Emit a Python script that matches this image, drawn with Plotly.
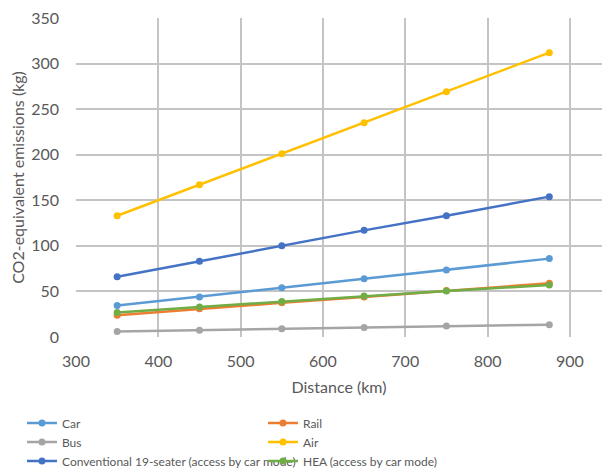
import plotly.graph_objects as go

distance = [350, 450, 550, 650, 750, 875]
car = [34.5, 44, 54, 64, 73.5, 86]
rail = [24, 31, 37.5, 44, 51, 59]
bus = [6, 7.5, 9, 10.5, 12, 13.5]
air = [133, 167, 201, 235, 269, 312]
conv19 = [66, 83, 100, 117, 133, 154]
hea = [27, 33, 39, 45, 50.5, 57]

series = [
    ("Car", car, "#5B9BD5"),
    ("Rail", rail, "#ED7D31"),
    ("Bus", bus, "#A5A5A5"),
    ("Air", air, "#FFC000"),
    ("Conventional 19-seater (access by car mode)", conv19, "#4472C4"),
    ("HEA (access by car mode)", hea, "#70AD47"),
]

fig = go.Figure()
for name, vals, col in series:
    fig.add_trace(go.Scatter(x=distance, y=vals, name=name, mode="lines+markers",
                             line=dict(color=col, width=2.5),
                             marker=dict(color=col, size=7)))

font_fam = "Lato, 'Liberation Sans', sans-serif"
fig.update_layout(
    width=602, height=490,
    margin=dict(l=76, r=0, t=18, b=153),
    plot_bgcolor="white", paper_bgcolor="white",
    font=dict(family=font_fam, color="#595959", size=14),
    xaxis=dict(range=[300, 939], dtick=100, showgrid=True, gridcolor="#c4c4c4", gridwidth=1.5,
               zeroline=False, showline=False, ticks="", tickfont=dict(size=16),
               ticklabelstandoff=13, automargin=False,
               title=dict(text="Distance (km)", font=dict(size=16), standoff=12)),
    yaxis=dict(range=[0, 350], dtick=50, showgrid=True, gridcolor="#c4c4c4", gridwidth=1.5,
               zeroline=False, showline=False, ticks="", tickfont=dict(size=16),
               ticklabelstandoff=16, automargin=False,
               title=dict(text="CO2-equivalent emissions (kg)", font=dict(size=16), standoff=2)),
    legend=dict(orientation="h", x=-0.1027, xanchor="left", y=-0.224, yanchor="top",
                xref="paper", yref="paper", entrywidth=196, entrywidthmode="pixels",
                font=dict(size=12), itemwidth=30, tracegroupgap=0),
    showlegend=True,
)
fig.write_html("out.html", config={"displayModeBar": False},
               post_script="document.body.style.margin='0';document.body.style.overflow='hidden';")
